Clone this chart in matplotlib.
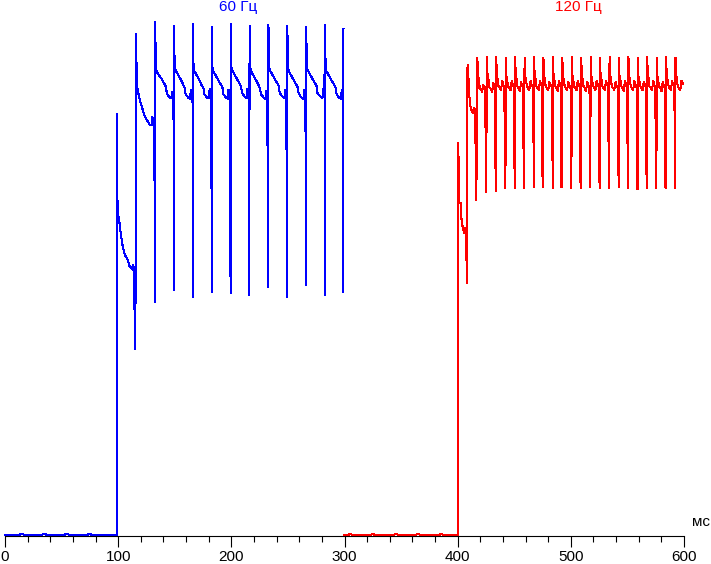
import matplotlib
matplotlib.use("Agg")
import matplotlib.pyplot as plt
from matplotlib.ticker import MultipleLocator

plt.rcParams['font.family'] = ['Liberation Sans', 'DejaVu Sans']

# ---------------- data (time in ms, brightness in arbitrary units) ----------------
x_ticks = [0, 100, 200, 300, 400, 500, 600]
x_unit = "мс"
label_60 = "60 Гц"
label_120 = "120 Гц"

blue_t = [
    0, 13, 13.5, 16, 16.5, 33, 33.5, 36, 36.5, 53, 53.5, 56, 56.5, 73, 73.5, 76, 76.5, 98.8,
    99.2, 99.4, 99.8, 100.7, 101.6, 102.5, 103.4, 104.3, 105.2, 106.0, 106.9, 108.7, 109.6, 110.5,
    112.2, 113.1, 113.4, 114.0, 114.6, 114.8, 115.2, 115.9,
    116.4, 116.9, 117.8, 118.7, 119.6, 120.5, 121.3, 122.2, 123.1, 124.0, 125.2, 126.6, 128.1,
    129.6, 130.2, 131.0, 131.6, 131.9, 132.1, 132.3, 132.7,
    133.3, 134.0, 135.5, 137.0, 138.5, 139.9, 141.4, 142.3, 142.9, 143.8, 145.2, 146.4, 147.3,
    147.6, 148.2, 148.7, 149.0, 149.1, 149.2, 149.4,
    149.9, 150.6, 152.0, 153.5, 155.0, 156.5, 158.0, 158.8, 159.3, 160.7, 162.2, 163.7, 164.1, 164.7, 165.2, 165.5, 165.7, 165.9, 166.1,
    166.6, 167.3, 168.7, 170.2, 171.7, 173.2, 174.7, 175.5, 176.0, 177.4, 178.9, 180.4, 180.8, 181.4, 181.9, 182.2, 182.4, 182.6, 182.8,
    183.3, 184.0, 185.4, 186.9, 188.4, 189.9, 191.4, 192.2, 192.7, 194.1, 195.6, 197.1, 197.5, 198.1, 198.6, 198.9, 199.1, 199.3, 199.4,
    199.9, 200.6, 202.0, 203.5, 205.0, 206.5, 208.0, 208.8, 209.3, 210.7, 212.2, 213.7, 214.1, 214.7, 215.2, 215.5, 215.7, 215.9, 216.1,
    216.6, 217.3, 218.7, 220.2, 221.7, 223.2, 224.7, 225.5, 226.0, 227.4, 228.9, 230.4, 230.8, 231.4, 231.9, 232.2, 232.4, 232.6, 232.8,
    233.3, 234.0, 235.4, 236.9, 238.4, 239.9, 241.4, 242.2, 242.7, 244.1, 245.6, 247.1, 247.5, 248.1, 248.6, 248.9, 249.1, 249.3, 249.5,
    250.0, 250.7, 252.1, 253.6, 255.1, 256.6, 258.1, 258.9, 259.4, 260.8, 262.3, 263.8, 264.2, 264.8, 265.3, 265.6, 265.8, 266.0, 266.2,
    266.7, 267.4, 268.8, 270.3, 271.8, 273.3, 274.8, 275.6, 276.1, 277.5, 279.0, 280.5, 280.9, 281.5, 282.0, 282.2, 282.4, 282.6, 282.8,
    283.3, 284.0, 285.4, 286.9, 288.4, 289.9, 291.4, 292.2, 292.7, 294.1, 295.6, 297.1, 297.5, 298.1, 298.6, 298.9, 299.1,
]
blue_v = [
    1, 1, 2, 2, 1, 1, 2, 2, 1, 1, 2, 2, 1, 1, 2, 2, 1, 1,
    422, 334, 319, 319, 308, 301, 294, 288, 284, 281, 279, 276, 271, 269,
    268, 266, 271, 266, 213, 260, 187, 502,
    453, 448, 443, 438, 434, 431, 428, 424, 421, 419, 416, 414, 411,
    411, 419, 414, 411, 356, 404, 234, 514,
    469, 464, 462, 459, 457, 454, 451, 449, 443, 441, 439, 438, 438,
    444, 443, 438, 408, 436, 246, 510,
    470, 466, 463, 460, 457, 454, 450, 448, 443, 440, 438, 437, 446, 442, 438, 440, 437, 239, 512,
    468, 465, 462, 459, 456, 452, 449, 447, 442, 440, 438, 438, 447, 443, 439, 430, 437, 244, 509,
    469, 465, 462, 459, 456, 453, 450, 448, 442, 440, 438, 437, 446, 442, 438, 391, 437, 243, 512,
    470, 466, 463, 460, 457, 454, 451, 449, 443, 441, 439, 438, 447, 443, 439, 345, 437, 241, 510,
    469, 465, 462, 459, 456, 453, 449, 447, 442, 440, 438, 437, 445, 441, 437, 254, 436, 249, 511,
    470, 466, 463, 460, 457, 454, 451, 449, 443, 441, 439, 438, 446, 442, 438, 344, 437, 239, 510,
    469, 465, 462, 459, 456, 453, 450, 448, 443, 440, 438, 437, 446, 442, 438, 399, 437, 251, 509,
    470, 466, 463, 460, 457, 454, 451, 449, 443, 441, 439, 438, 447, 443, 439, 461, 438, 241, 511,
    469, 465, 462, 459, 456, 453, 450, 448, 443, 440, 438, 437, 446, 442, 438, 244, 507,
]

red_t = [
    300, 303.5, 304, 306, 306.5, 323.5, 324, 326, 326.5, 344, 344.5, 346.5, 347, 363.5, 364, 366, 366.5,
    384, 384.5, 386.5, 387, 400.3,
    400.6, 401.0, 401.3, 402.6, 402.7, 403.6, 403.7, 404.4, 405.0, 405.6, 406.5, 407.1, 407.4, 407.6, 407.9, 408.2,
    408.5, 409.4, 409.7, 410.3, 410.9, 411.8, 412.7, 413.8, 414.7, 415.6, 416.0, 416.2, 416.5,
    417.4, 418.0, 419.2, 419.3, 420.4, 421.6, 422.7, 424.0, 424.5, 424.8, 425.2,
    425.8, 426.4, 427.3, 428.0, 429.2, 430.4, 431.5, 432.7, 433.2, 433.5, 433.8,
    434.1, 434.6, 435.3, 436.0, 437.1, 438.3, 439.4, 440.4, 441.3, 441.6, 441.9, 442.2,
    442.5, 443.0, 443.7, 444.4, 445.5, 446.7, 447.8, 448.8, 449.7, 450.0, 450.3, 450.5,
    450.8, 451.3, 452.0, 452.7, 453.8, 455.0, 456.1, 457.1, 458.0, 458.3, 458.6, 458.8,
    459.1, 459.6, 460.3, 461.0, 462.1, 463.3, 464.4, 465.4, 466.3, 466.6, 466.9, 467.2,
    467.5, 468.0, 468.7, 469.4, 470.5, 471.7, 472.8, 473.8, 474.7, 475.0, 475.3, 475.5,
    475.8, 476.3, 477.0, 477.7, 478.8, 480.0, 481.1, 482.1, 483.0, 483.3, 483.6, 483.9,
    484.2, 484.7, 485.4, 486.1, 487.2, 488.4, 489.5, 490.5, 491.4, 491.7, 492.0, 492.2,
    492.5, 493.0, 493.7, 494.4, 495.5, 496.7, 497.8, 498.8, 499.7, 500.0, 500.3, 500.5,
    500.8, 501.3, 502.0, 502.7, 503.8, 505.0, 506.1, 507.1, 508.0, 508.3, 508.6, 508.9,
    509.2, 509.7, 510.4, 511.1, 512.2, 513.4, 514.5, 515.5, 516.4, 516.7, 517.0, 517.2,
    517.5, 518.0, 518.7, 519.4, 520.5, 521.7, 522.8, 523.8, 524.7, 525.0, 525.3, 525.5,
    525.8, 526.3, 527.0, 527.7, 528.8, 530.0, 531.1, 532.1, 533.0, 533.3, 533.6, 533.9,
    534.2, 534.7, 535.4, 536.1, 537.2, 538.4, 539.5, 540.5, 541.4, 541.7, 542.0, 542.2,
    542.5, 543.0, 543.7, 544.4, 545.5, 546.7, 547.8, 548.8, 549.7, 550.0, 550.3, 550.6,
    550.9, 551.4, 552.1, 552.8, 553.9, 555.1, 556.2, 557.2, 558.1, 558.4, 558.7, 558.9,
    559.2, 559.7, 560.4, 561.1, 562.2, 563.4, 564.5, 565.5, 566.4, 566.7, 567.0, 567.2,
    567.5, 568.0, 568.7, 569.4, 570.5, 571.7, 572.8, 573.8, 574.7, 575.0, 575.3, 575.6,
    575.9, 576.4, 577.1, 577.8, 578.9, 580.1, 581.2, 582.2, 583.1, 583.4, 583.7, 583.9,
    584.2, 584.7, 585.4, 586.1, 587.2, 588.4, 589.5, 590.5, 591.4, 591.7, 592.0, 592.2,
    592.5, 593.0, 593.7, 594.4, 595.5, 596.7, 597.8, 598.7, 599.3,
]
red_v = [
    1, 1, 2, 2, 1, 1, 2, 2, 1, 1, 2, 2, 1, 1, 2, 2, 1,
    1, 2, 2, 1, 1,
    393, 349, 333, 333, 317, 317, 313, 309, 306, 303, 308, 303, 308, 276, 300, 253,
    468, 471, 446, 441, 431, 428, 424, 423, 428, 424, 352, 420, 336,
    478, 459, 458, 448, 447, 444, 451, 449, 409, 447, 344,
    479, 461, 456, 449, 447, 444, 453, 450, 368, 448, 345,
    479, 461, 457, 450, 448, 446, 455, 451, 449, 378, 447, 348,
    478, 460, 457, 450, 448, 446, 455, 451, 449, 368, 447, 348,
    479, 461, 457, 450, 448, 445, 454, 450, 448, 354, 447, 348,
    478, 460, 457, 451, 448, 446, 455, 451, 449, 394, 447, 349,
    479, 461, 458, 450, 448, 446, 455, 451, 449, 354, 447, 349,
    478, 460, 457, 450, 448, 446, 454, 451, 449, 435, 447, 348,
    479, 461, 457, 450, 448, 445, 455, 451, 448, 349, 447, 349,
    478, 460, 457, 451, 448, 446, 454, 450, 449, 435, 447, 348,
    479, 461, 458, 450, 448, 446, 455, 451, 449, 354, 447, 348,
    478, 460, 457, 450, 448, 445, 454, 451, 449, 431, 447, 349,
    479, 461, 457, 451, 448, 446, 455, 451, 449, 354, 447, 348,
    478, 460, 457, 450, 448, 446, 455, 451, 449, 395, 447, 348,
    479, 461, 458, 450, 448, 446, 454, 450, 448, 361, 447, 349,
    478, 460, 457, 450, 448, 445, 455, 451, 449, 393, 447, 348,
    479, 461, 457, 451, 448, 446, 455, 451, 449, 380, 447, 347,
    478, 460, 457, 450, 448, 446, 454, 451, 449, 362, 447, 348,
    479, 461, 458, 450, 448, 446, 455, 451, 449, 379, 447, 348,
    478, 460, 457, 450, 448, 445, 454, 450, 448, 349, 447, 348,
    479, 461, 457, 451, 448, 446, 455, 451, 449, 417, 447, 348,
    478, 461, 457, 450, 448, 446, 455, 452, 453,
]

# ---------------- figure ----------------
W, H = 711, 564
fig = plt.figure(figsize=(W / 100, H / 100), dpi=100)
ax = fig.add_axes([5 / W, 28 / H, 679 / W, 536 / H])

ax.plot(blue_t, blue_v, color='#0000ff', lw=0.75, antialiased=False, clip_on=False)
ax.plot(red_t, red_v, color='#ff0000', lw=0.75, antialiased=False, clip_on=False)

ax.set_xlim(0, 600)
ax.set_ylim(0, 536)

for s in ('left', 'right', 'top'):
    ax.spines[s].set_visible(False)
ax.spines['bottom'].set_linewidth(0.8)
ax.spines['bottom'].set_color('black')
ax.set_yticks([])
ax.set_xticks(x_ticks)
ax.set_xticklabels([str(v) for v in x_ticks])
ax.xaxis.set_minor_locator(MultipleLocator(20))
ax.tick_params(axis='x', which='major', direction='out', length=8, width=0.8,
               labelsize=11, pad=2, colors='black')
ax.tick_params(axis='x', which='minor', direction='out', length=4.2, width=0.8)
ax.patch.set_visible(False)

fig.text(238 / W, 1 - 7 / H, label_60, color='#0000ff', fontsize=11,
         ha='center', va='center')
fig.text(578 / W, 1 - 7 / H, label_120, color='#ff0000', fontsize=11,
         ha='center', va='center')
fig.text(692 / W, 1 - 522 / H, x_unit, color='black', fontsize=11,
         ha='left', va='center')

fig.savefig("out.png", dpi=100)
